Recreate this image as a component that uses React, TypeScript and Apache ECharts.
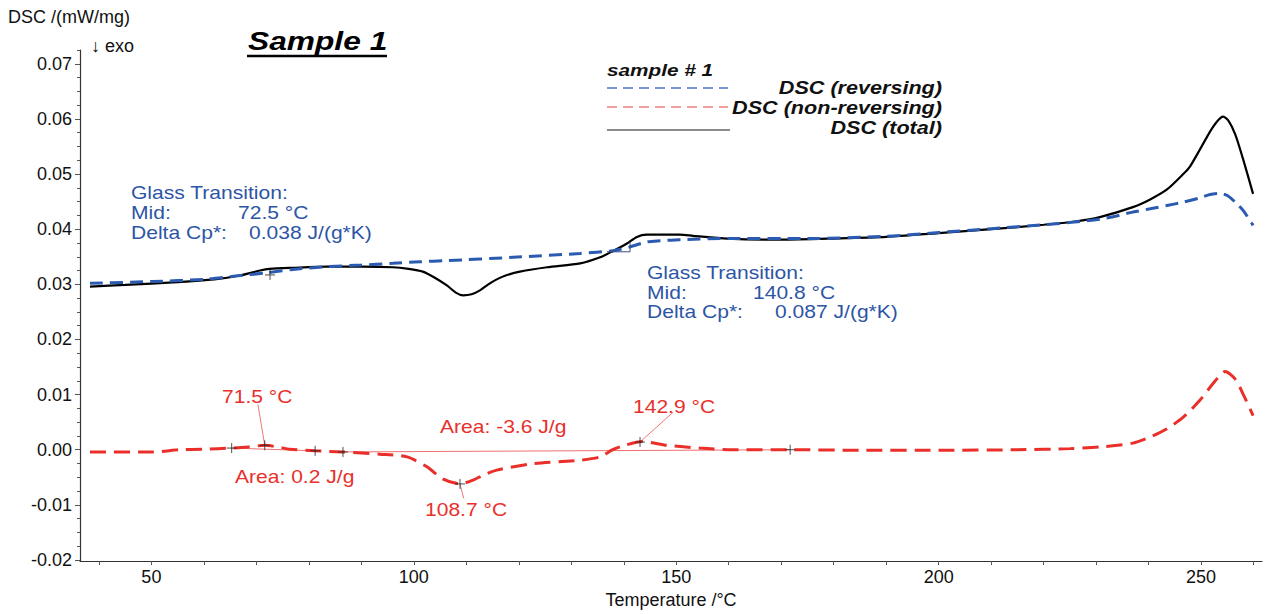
import React, { useEffect, useRef } from "react";
import * as echarts from "echarts";

// ---- data (temperature °C, DSC mW/mg) ----
const totalT = [38.3, 45, 55, 62, 66.9, 70.7, 72.5, 77, 83.4, 90, 96, 99, 101.7, 104, 106.3, 108, 109.4, 111, 112.6, 114.2, 115.8, 117.5, 120.2, 125.4, 131.7, 135.5, 137.9, 140.6, 142.5, 144.4, 150.7, 153.2, 159.7, 170, 180, 190, 200, 210, 220, 226, 230.7, 237, 240.3, 243.5, 246.6, 247.9, 249.8, 251.7, 253, 254.2, 255.2, 256.5, 258, 259.9];
const totalV = [0.0296, 0.0299, 0.0304, 0.0309, 0.0316, 0.0325, 0.0328, 0.033, 0.0332, 0.0332, 0.0331, 0.0328, 0.0323, 0.0312, 0.0298, 0.0285, 0.028, 0.0282, 0.0289, 0.03, 0.0309, 0.0316, 0.0323, 0.0331, 0.0338, 0.0349, 0.036, 0.0374, 0.0386, 0.039, 0.039, 0.0388, 0.0383, 0.0381, 0.0383, 0.0386, 0.0393, 0.04, 0.0408, 0.0414, 0.0422, 0.044, 0.0454, 0.0472, 0.05, 0.0514, 0.0545, 0.0577, 0.0595, 0.0604, 0.0597, 0.0572, 0.0527, 0.0464];

const revT = [38.3, 50, 60, 66, 72, 77, 83.4, 90, 96, 101.2, 106.3, 118.9, 131.7, 137.9, 141.2, 144.4, 146.9, 150.7, 159.7, 175, 190, 200, 210, 220, 230.7, 237, 240.3, 243.5, 246.6, 249.8, 251.7, 253.6, 255, 256.5, 258, 259.9];
const revV = [0.0302, 0.0305, 0.0309, 0.0315, 0.0321, 0.0327, 0.0332, 0.0335, 0.0338, 0.0341, 0.0343, 0.0349, 0.0356, 0.0361, 0.0368, 0.0377, 0.0379, 0.0381, 0.0383, 0.0383, 0.0387, 0.0394, 0.0401, 0.0408, 0.0418, 0.0431, 0.0437, 0.0443, 0.0449, 0.0457, 0.0463, 0.0465, 0.0461, 0.0449, 0.0434, 0.0407];

const nonRevT = [38.3, 50.3, 55.4, 60, 65.3, 68.5, 71.6, 74, 76.4, 81.2, 86.5, 93.5, 98.7, 102.5, 105.5, 108.8, 111.3, 113.5, 115.8, 122.1, 131.7, 135.5, 137.9, 140.2, 143.5, 148.2, 154.5, 160.8, 171.7, 185, 200, 215, 225, 230.7, 237, 240.3, 243.5, 246.6, 249.8, 252.7, 254.6, 256.5, 258, 259.9];
const nonRevV = [-0.0004, -0.0004, 0, 0.0001, 0.0003, 0.0005, 0.0008, 0.0005, 0.0001, -0.0002, -0.0004, -0.0008, -0.0013, -0.0031, -0.0053, -0.0062, -0.0055, -0.0045, -0.0037, -0.0026, -0.0019, -0.0013, 0, 0.0008, 0.0015, 0.0008, 0.0003, 0, 0, -0.0001, -0.0001, 0, 0.0002, 0.0005, 0.0012, 0.0023, 0.0038, 0.0059, 0.009, 0.0125, 0.0142, 0.0128, 0.0101, 0.0062];

// evaluation marks
const peakMarks = [[65.3, 0.0003], [71.6, 0.0008], [81.2, -0.0002], [86.5, -0.0004], [108.8, -0.0062], [143.1, 0.0014], [171.7, 0.0]];
const tgMarks = [[72.6, 0.0317]];
const tgBox = [[136.8, 0.0359], [141.2, 0.0359], [141.2, 0.0377]];
const baseline1 = [[65.3, 0.0003], [81.2, -0.0002]];
const baseline2 = [[86.5, -0.0004], [171.7, 0.0]];
const connector1 = [[71.6, 0.0008], [70.3, 0.0082]];
const connector2 = [[108.8, -0.0062], [109.5, -0.0088]];
const connector3 = [[143.1, 0.0014], [149.4, 0.0068]];

// axes
const xLabels = [50, 100, 150, 200, 250];
const xTicks = [40, 50, 60, 70, 80, 90, 100, 110, 120, 130, 140, 150, 160, 170, 180, 190, 200, 210, 220, 230, 240, 250, 260];
const yLabels = [-0.02, -0.01, 0.0, 0.01, 0.02, 0.03, 0.04, 0.05, 0.06, 0.07];
const yMinorTicks = [-0.02, -0.0175, -0.015, -0.0125, -0.01, -0.0075, -0.005, -0.0025, 0, 0.0025, 0.005, 0.0075, 0.01, 0.0125, 0.015, 0.0175, 0.02, 0.0225, 0.025, 0.0275, 0.03, 0.0325, 0.035, 0.0375, 0.04, 0.0425, 0.045, 0.0475, 0.05, 0.0525, 0.055, 0.0575, 0.06, 0.0625, 0.065, 0.0675, 0.07, 0.0725];

const FONT = '"Liberation Sans", Arial, Helvetica, sans-serif';
const BLUE = "#2d55a5";
const RED = "#e8302c";

function pairs(t: number[], v: number[]) {
  return t.map((x, i) => [x, v[i]]);
}

function txt(text: string, x: number, y: number, opts: any = {}) {
  return {
    type: "text",
    x,
    y,
    scaleX: opts.scaleX ?? 1,
    z: 100,
    style: {
      text,
      fill: opts.fill ?? "#111",
      fontSize: opts.fontSize ?? 18,
      fontFamily: FONT,
      fontWeight: opts.fontWeight ?? "normal",
      fontStyle: opts.fontStyle ?? "normal",
      align: opts.align ?? "left",
      verticalAlign: "middle",
    },
  };
}

export default function App() {
  const ref = useRef<HTMLDivElement>(null);
  useEffect(() => {
    const chart = echarts.init(ref.current!, null, { renderer: "svg" });
    const ann = { fontSize: 18, scaleX: 1.17 };
    const blueA = { ...ann, fill: BLUE };
    const redA = { ...ann, fill: RED };
    const leg = { fontSize: 18, scaleX: 1.2, fontWeight: "bold", fontStyle: "italic", align: "right", fill: "#111" };
    const thin = (d: number[][], color: string, z = 2) => ({
      type: "line",
      data: d,
      showSymbol: false,
      lineStyle: { color, width: 1 },
      z,
    });
    chart.setOption({
      animation: false,
      backgroundColor: "#fff",
      grid: { left: 80, top: 50, width: 1182, height: 515 },
      xAxis: {
        type: "value",
        min: 36.4,
        max: 261.6,
        name: "Temperature /°C",
        nameLocation: "middle",
        nameGap: 27,
        nameTextStyle: { fontSize: 18, fontFamily: FONT, color: "#111" },
        axisLine: { show: true, onZero: false, lineStyle: { color: "#333", width: 1.2 } },
        axisTick: { show: true, customValues: xTicks, length: 4, lineStyle: { color: "#555" } },
        axisLabel: { customValues: xLabels, fontSize: 18, fontFamily: FONT, color: "#111", margin: 7 },
        splitLine: { show: false },
      },
      yAxis: [
        {
          type: "value",
          min: -0.0202,
          max: 0.0725,
          position: "left",
          axisLine: { show: true, onZero: false, lineStyle: { color: "#333", width: 1.2 } },
          axisTick: { show: true, customValues: yLabels, length: 5, lineStyle: { color: "#555" } },
          axisLabel: {
            customValues: yLabels,
            fontSize: 18,
            fontFamily: FONT,
            color: "#111",
            margin: 8,
            formatter: (v: number) => v.toFixed(2),
          },
          splitLine: { show: false },
        },
        {
          type: "value",
          min: -0.0202,
          max: 0.0725,
          position: "left",
          offset: 0,
          axisLine: { show: false },
          axisTick: { show: true, customValues: yMinorTicks, length: 3, lineStyle: { color: "#555" } },
          axisLabel: { show: false },
          splitLine: { show: false },
        },
      ],
      series: [
        {
          name: "DSC (total)",
          type: "line",
          data: pairs(totalT, totalV),
          smooth: 0.25,
          showSymbol: false,
          lineStyle: { color: "#000", width: 2.2 },
          z: 3,
        },
        {
          name: "DSC (reversing)",
          type: "line",
          data: pairs(revT, revV),
          smooth: 0.25,
          showSymbol: false,
          lineStyle: { color: "#2b5bb0", width: 3, type: [13, 7] },
          z: 4,
        },
        {
          name: "DSC (non-reversing)",
          type: "line",
          data: pairs(nonRevT, nonRevV),
          smooth: 0.25,
          showSymbol: false,
          lineStyle: { color: "#ea2f2a", width: 3, type: [16, 8] },
          z: 4,
        },
        thin(baseline1, "#f07070"),
        thin(baseline2, "#f07070"),
        thin(connector1, "#f07878"),
        thin(connector2, "#f07878"),
        thin(connector3, "#f07878"),
        thin(tgBox, "#3a4a80", 5),
        {
          type: "scatter",
          data: [...peakMarks, ...tgMarks],
          symbol: "path://M0,5L10,5M5,0L5,10",
          symbolSize: 10,
          itemStyle: { color: "transparent", borderColor: "#222", borderWidth: 1 },
          z: 6,
        },
      ],
      graphic: [
        txt("DSC /(mW/mg)", 8, 17, { fontSize: 18 }),
        txt("↓ exo", 91, 46, { fontSize: 18 }),
        txt("Sample 1", 248, 41, { fontSize: 26, fontWeight: "bold", fontStyle: "italic", scaleX: 1.22, fill: "#000" }),
        { type: "line", z: 100, shape: { x1: 247, y1: 56, x2: 387, y2: 56 }, style: { stroke: "#000", lineWidth: 2.5 } },
        txt("sample # 1", 607, 70, { fontSize: 17, fontWeight: "bold", fontStyle: "italic", scaleX: 1.22 }),
        { type: "line", z: 100, shape: { x1: 607, y1: 88, x2: 728, y2: 88 }, style: { stroke: "#4a74c9", lineWidth: 1.5, lineDash: [10, 6] } },
        { type: "line", z: 100, shape: { x1: 607, y1: 107, x2: 728, y2: 107 }, style: { stroke: "#f08080", lineWidth: 1.5, lineDash: [10, 6] } },
        { type: "line", z: 100, shape: { x1: 607, y1: 130, x2: 730, y2: 130 }, style: { stroke: "#666", lineWidth: 1.5 } },
        txt("DSC (reversing)", 942, 88, leg),
        txt("DSC (non-reversing)", 942, 108, leg),
        txt("DSC (total)", 942, 128, leg),
        txt("Glass Transition:", 131, 193, blueA),
        txt("Mid:", 131, 213, blueA),
        txt("72.5 °C", 238, 213, blueA),
        txt("Delta Cp*:", 131, 233, blueA),
        txt("0.038 J/(g*K)", 249, 233, blueA),
        txt("Glass Transition:", 647, 273, blueA),
        txt("Mid:", 647, 293, blueA),
        txt("140.8 °C", 753, 293, blueA),
        txt("Delta Cp*:", 647, 312, blueA),
        txt("0.087 J/(g*K)", 775, 312, blueA),
        txt("71.5 °C", 222, 397, redA),
        txt("Area: 0.2 J/g", 235, 477, redA),
        txt("Area: -3.6 J/g", 440, 427, redA),
        txt("108.7 °C", 425, 510, redA),
        txt("142.9 °C", 633, 407, redA),
      ],
    });
    return () => chart.dispose();
  }, []);
  return (
    <div
      ref={ref}
      style={{ position: "fixed", left: 0, top: 0, width: 1269, height: 614, background: "#fff" }}
    />
  );
}
